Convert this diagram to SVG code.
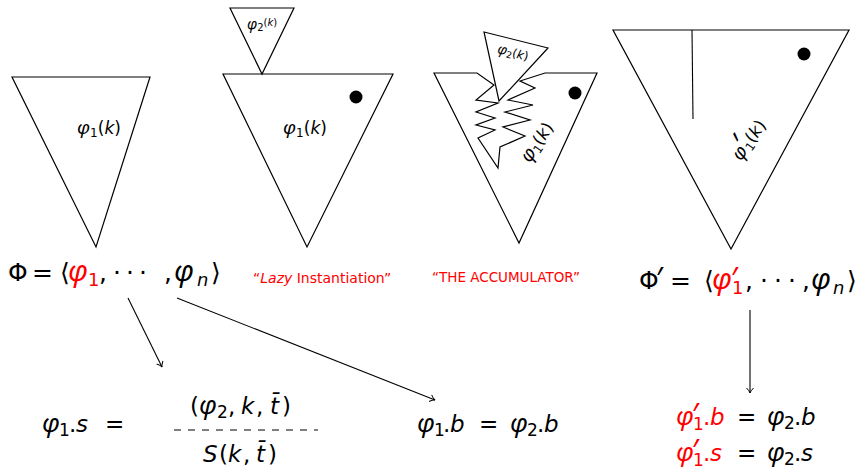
<svg xmlns="http://www.w3.org/2000/svg" width="861" height="472" viewBox="0 0 861 472">
<defs>
<style>
.sh{fill:#fff;stroke:#000;stroke-width:1.2;stroke-linejoin:miter}
.ln{fill:none;stroke:#000;stroke-width:1.1}
.t{font-family:"DejaVu Sans","Liberation Sans",sans-serif;fill:#000}
.r{fill:#ff0000}
.i{font-style:italic}
.ph{font-family:"Noto Sans","DejaVu Sans",sans-serif;font-style:italic}
.pr{font-family:"Noto Sans","DejaVu Sans",sans-serif;font-size:30px}
.big{font-size:29px}
.mid{font-size:26px}
</style>
<marker id="ah" viewBox="-6 -5 8 10" markerWidth="8" markerHeight="10" refX="0" refY="0" orient="auto" markerUnits="userSpaceOnUse">
<path d="M-5,-3.5 Q-2,-0.5 0,0 Q-2,0.5 -5,3.5" fill="none" stroke="#000" stroke-width="1"/>
</marker>
</defs>
<rect width="861" height="472" fill="#fff"/>

<g id="tri1">
<polygon class="sh" points="12,77 150,77 96,247"/>
<text class="t" x="99" y="134" font-size="17" text-anchor="middle"><tspan class="ph" font-size="19">φ</tspan><tspan font-size="12" dy="3">1</tspan><tspan dy="-3">(</tspan><tspan class="i">k</tspan>)</text>
</g>

<g id="tri2">
<polygon class="sh" points="223,74 393,74 307,247"/>
<polygon class="sh" points="230,8 294,8 262,74"/>
<circle cx="356" cy="97" r="6.5" fill="#000"/>
<text class="t" x="262" y="29" font-size="13" text-anchor="middle"><tspan class="ph" font-size="15">φ</tspan><tspan font-size="10" dy="2">2</tspan><tspan dy="-5" font-size="10">(<tspan class="i">k</tspan>)</tspan></text>
<text class="t" x="305" y="134" font-size="17" text-anchor="middle"><tspan class="ph" font-size="19">φ</tspan><tspan font-size="12" dy="3">1</tspan><tspan dy="-3">(</tspan><tspan class="i">k</tspan>)</text>
</g>

<g id="tri3">
<polygon class="sh" points="434,73 477,73 494,85 476,100 498,103 476,112 495,118 476,125 495,130 478,138 498,168 500,147 525,136 503,127 530,120 505,112 533,105 508,100 535,88 520,81 545,73 597,73 519,243"/>
<circle cx="575" cy="93" r="6.5" fill="#000"/>
<polygon class="sh" points="484,32 548,48 499,101"/>
<text class="t" transform="rotate(14 513 53)" x="513" y="57" font-size="12" text-anchor="middle"><tspan class="ph" font-size="14">φ</tspan><tspan font-size="9" dy="2">2</tspan><tspan dy="-2">(</tspan><tspan class="i">k</tspan>)</text>
<text class="t" transform="rotate(-56 537 142)" x="537" y="148" font-size="17" text-anchor="middle"><tspan class="ph" font-size="19">φ</tspan><tspan font-size="12" dy="3">1</tspan><tspan dy="-3">(</tspan><tspan class="i">k</tspan>)</text>
</g>

<g id="tri4">
<polygon class="sh" points="613,30 849,30 731,249"/>
<line class="ln" x1="692" y1="30" x2="693" y2="119"/>
<circle cx="804" cy="54" r="6.5" fill="#000"/>
<text class="t" transform="rotate(-55 749 140)" x="749" y="146" font-size="17" text-anchor="middle"><tspan class="ph" font-size="19">φ</tspan><tspan class="pr" font-size="20" dy="-1">′</tspan><tspan font-size="12" dx="-6" dy="4">1</tspan><tspan dy="-3">(</tspan><tspan class="i">k</tspan>)</text>
</g>

<g id="labels">
<text class="t" y="281" font-size="25"><tspan x="8">Φ</tspan><tspan x="32">=</tspan><tspan x="60">⟨</tspan><tspan class="ph r big" x="68">φ</tspan><tspan class="r" x="88" dy="5" font-size="18">1</tspan><tspan x="99" dy="-5">,</tspan><tspan x="113">·</tspan><tspan x="126">·</tspan><tspan x="139">·</tspan><tspan x="164">,</tspan><tspan class="ph big" x="174">φ</tspan><tspan class="i" x="197" dy="5" font-size="18">n</tspan><tspan x="211" dy="-5">⟩</tspan></text>
<text class="t r" x="253" y="283" font-size="14">“<tspan class="i">Lazy</tspan> Instantiation”</text>
<text class="t r" x="432" y="282" font-size="13.5">“THE ACCUMULATOR”</text>
<text class="t" y="289" font-size="25"><tspan x="639">Φ</tspan><tspan class="pr" x="656">′</tspan><tspan x="670">=</tspan><tspan x="704">⟨</tspan><tspan class="ph r big" x="712">φ</tspan><tspan class="pr r" x="731">′</tspan><tspan class="r" x="732" dy="5" font-size="18">1</tspan><tspan x="745" dy="-5">,</tspan><tspan x="760">·</tspan><tspan x="774">·</tspan><tspan x="788">·</tspan><tspan x="802">,</tspan><tspan class="ph big" x="811">φ</tspan><tspan class="i" x="833" dy="5" font-size="18">n</tspan><tspan x="847" dy="-5">⟩</tspan></text>
</g>

<g id="formulas">
<text class="t" y="432" font-size="23"><tspan class="ph mid" x="42">φ</tspan><tspan x="59" dy="4" font-size="17">1</tspan><tspan x="69" dy="-4">.</tspan><tspan class="i" x="76">s</tspan><tspan x="105">=</tspan></text>
<text class="t" y="414" font-size="23"><tspan x="190">(</tspan><tspan class="ph mid" x="199">φ</tspan><tspan x="217" dy="4" font-size="17">2</tspan><tspan x="228" dy="-4">,</tspan><tspan class="i" x="241">k</tspan><tspan x="256">,</tspan><tspan class="i" x="270">t̄</tspan><tspan x="282">)</tspan></text>
<line x1="174" y1="430" x2="318" y2="430" stroke="#000" stroke-width="1" stroke-dasharray="7,7"/>
<text class="t" y="462" font-size="23"><tspan class="i" x="203">S</tspan><tspan x="219">(</tspan><tspan class="i" x="228">k</tspan><tspan x="243">,</tspan><tspan class="i" x="256">t̄</tspan><tspan x="268">)</tspan></text>
<text class="t" y="432" font-size="23"><tspan class="ph mid" x="417">φ</tspan><tspan x="434" dy="4" font-size="17">1</tspan><tspan x="443" dy="-4">.</tspan><tspan class="i" x="450">b</tspan><tspan x="479">=</tspan><tspan class="ph mid" x="510">φ</tspan><tspan x="527" dy="4" font-size="17">2</tspan><tspan x="537" dy="-4">.</tspan><tspan class="i" x="544">b</tspan></text>
<text class="t" y="425" font-size="23"><tspan class="ph r mid" x="676">φ</tspan><tspan class="pr r" x="692">′</tspan><tspan class="r" x="693" dy="5" font-size="17">1</tspan><tspan class="r" x="703" dy="-5">.</tspan><tspan class="i r" x="710">b</tspan><tspan x="737">=</tspan><tspan class="ph mid" x="767">φ</tspan><tspan x="784" dy="4" font-size="17">2</tspan><tspan x="794" dy="-4">.</tspan><tspan class="i" x="801">b</tspan></text>
<text class="t" y="461" font-size="23"><tspan class="ph r mid" x="676">φ</tspan><tspan class="pr r" x="692">′</tspan><tspan class="r" x="693" dy="5" font-size="17">1</tspan><tspan class="r" x="703" dy="-5">.</tspan><tspan class="i r" x="710">s</tspan><tspan x="737">=</tspan><tspan class="ph mid" x="767">φ</tspan><tspan x="784" dy="4" font-size="17">2</tspan><tspan x="794" dy="-4">.</tspan><tspan class="i" x="801">s</tspan></text>
</g>

<g id="connectors">
<line class="ln" x1="128" y1="298" x2="162" y2="367" marker-end="url(#ah)"/>
<line class="ln" x1="177" y1="298" x2="435" y2="400" marker-end="url(#ah)"/>
<line class="ln" x1="750" y1="310" x2="750" y2="393" marker-end="url(#ah)"/>
</g>
</svg>
